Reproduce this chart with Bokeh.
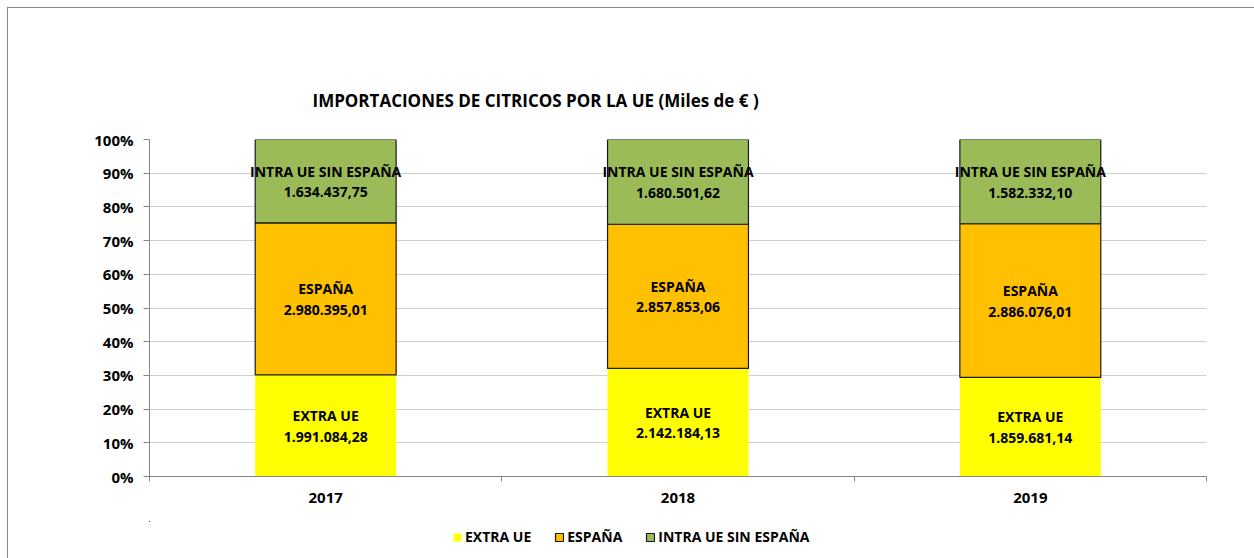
from bokeh.plotting import figure
from bokeh.layouts import column
from bokeh.models import Range1d, FixedTicker, Legend, LegendItem, ColumnDataSource, NumeralTickFormatter
from bokeh.core.properties import value
from bokeh.embed import file_html
from bokeh.resources import INLINE

years = ["2017", "2018", "2019"]
extra_ue = [1991084.28, 2142184.13, 1859681.14]
espana = [2980395.01, 2857853.06, 2886076.01]
intra_ue = [1634437.75, 1680501.62, 1582332.10]
series_names = ["EXTRA UE", "ESPAÑA", "INTRA UE SIN ESPAÑA"]
colors = ["#FFFF00", "#FFC000", "#9BBB59"]
edge = [None, "#1a1a1a", "#1a1a1a"]

FONT = "Open Sans"


def fmt_es(v):
    s = f"{v:,.2f}"
    return s.replace(",", "X").replace(".", ",").replace("X", ".")


p = figure(frame_width=1057, frame_height=337, output_backend="svg", toolbar_location=None,
           x_range=Range1d(0, len(years)), y_range=Range1d(0, 1),
           min_border_left=141, min_border_right=48, min_border_top=131, min_border_bottom=45)
p.outline_line_color = None
p.background_fill_color = "white"
p.border_fill_color = "white"

p.title.text = "IMPORTACIONES DE CITRICOS POR LA UE (Miles de € )"
p.title.text_font = FONT
p.title.text_font_size = "17px"
p.title.text_font_style = "bold"
p.title.text_color = "#000000"
p.title.align = "left"
p.title.offset = 163
p.title.standoff = 56

xs = [i + 0.5 for i in range(len(years))]
series = [extra_ue, espana, intra_ue]
totals = [sum(s[i] for s in series) for i in range(len(years))]

sources = []
bottoms = [0.0] * len(years)
for k, s in enumerate(series):
    tops = [bottoms[i] + s[i] / totals[i] for i in range(len(years))]
    mids = [(bottoms[i] + tops[i]) / 2 for i in range(len(years))]
    src = ColumnDataSource(dict(x=xs, bottom=bottoms, top=tops, mid=mids,
                                name=[series_names[k]] * len(years),
                                val=[fmt_es(v) for v in s]))
    sources.append(src)
    p.vbar(x="x", bottom="bottom", top="top", width=0.4, source=src,
           fill_color=colors[k], line_color=edge[k], line_width=1.2 if edge[k] else 0)
    p.text(x="x", y="mid", text="name", source=src, text_font=value(FONT),
           text_font_size="14px", text_font_style="bold", text_color="#000000",
           text_align="center", text_baseline="middle", y_offset=-10)
    p.text(x="x", y="mid", text="val", source=src, text_font=value(FONT),
           text_font_size="14px", text_font_style="bold", text_color="#000000",
           text_align="center", text_baseline="middle", y_offset=11)
    bottoms = tops

# grid
p.xgrid.visible = False
p.ygrid.ticker = FixedTicker(ticks=[i / 10 for i in range(11)])
p.ygrid.grid_line_color = "#a0a0a0"
p.ygrid.grid_line_dash = "1 1"
p.ygrid.grid_line_width = 1

# y axis
p.yaxis.ticker = FixedTicker(ticks=[i / 10 for i in range(11)])
p.yaxis.formatter = NumeralTickFormatter(format="0%")
p.yaxis.axis_line_color = "#868686"
p.yaxis.major_tick_line_color = "#868686"
p.yaxis.major_tick_out = 6
p.yaxis.major_tick_in = 0
p.yaxis.minor_tick_line_color = None
p.yaxis.major_label_text_font = FONT
p.yaxis.major_label_text_font_size = "15px"
p.yaxis.major_label_text_font_style = "bold"
p.yaxis.major_label_text_color = "#000000"
p.yaxis.major_label_standoff = 10

# x axis
p.xaxis.ticker = FixedTicker(ticks=xs, minor_ticks=list(range(len(years) + 1)))
p.xaxis.major_label_overrides = {x: y for x, y in zip(xs, years)}
p.xaxis.axis_line_color = "#868686"
p.xaxis.major_tick_line_color = None
p.xaxis.minor_tick_line_color = "#868686"
p.xaxis.minor_tick_out = 5
p.xaxis.minor_tick_in = 0
p.xaxis.major_label_text_font = FONT
p.xaxis.major_label_text_font_size = "15px"
p.xaxis.major_label_text_font_style = "bold"
p.xaxis.major_label_text_color = "#000000"
p.xaxis.major_label_standoff = 10

# legend strip (separate figure below the chart; its bars lie far outside its visible range)
lg = figure(width=1246, height=37, output_backend="svg", toolbar_location=None,
            x_range=Range1d(50, 53), y_range=Range1d(-3, -2),
            x_axis_type=None, y_axis_type=None,
            min_border_left=0, min_border_right=0, min_border_top=0, min_border_bottom=0)
lg.outline_line_color = None
lg.grid.visible = False
lg.border_fill_color = "white"
lg.background_fill_color = "white"
leg_renderers = []
for k in range(3):
    r = lg.vbar(x="x", bottom="bottom", top="top", width=0.4, source=sources[k],
                fill_color=colors[k], line_color=edge[k], line_width=1.2 if edge[k] else 0)
    leg_renderers.append(r)

legend = Legend(items=[LegendItem(label=series_names[k], renderers=[leg_renderers[k]]) for k in range(3)],
                orientation="horizontal", location=(303, 12))
legend.label_text_font = FONT
legend.label_text_font_size = "14px"
legend.label_text_font_style = "bold"
legend.label_text_color = "#000000"
legend.glyph_width = 10
legend.glyph_height = 10
legend.label_standoff = 3
legend.spacing = 23
legend.border_line_color = None
legend.background_fill_alpha = 0
legend.padding = 0
legend.margin = 0
legend.label_height = 14
lg.add_layout(legend, "center")

lay = column(p, lg, spacing=0)
lay.styles = {"margin-left": "8px", "margin-top": "8px", "outline": "1px solid #8c8c8c"}

open("out.html", "w").write(file_html(lay, INLINE))
